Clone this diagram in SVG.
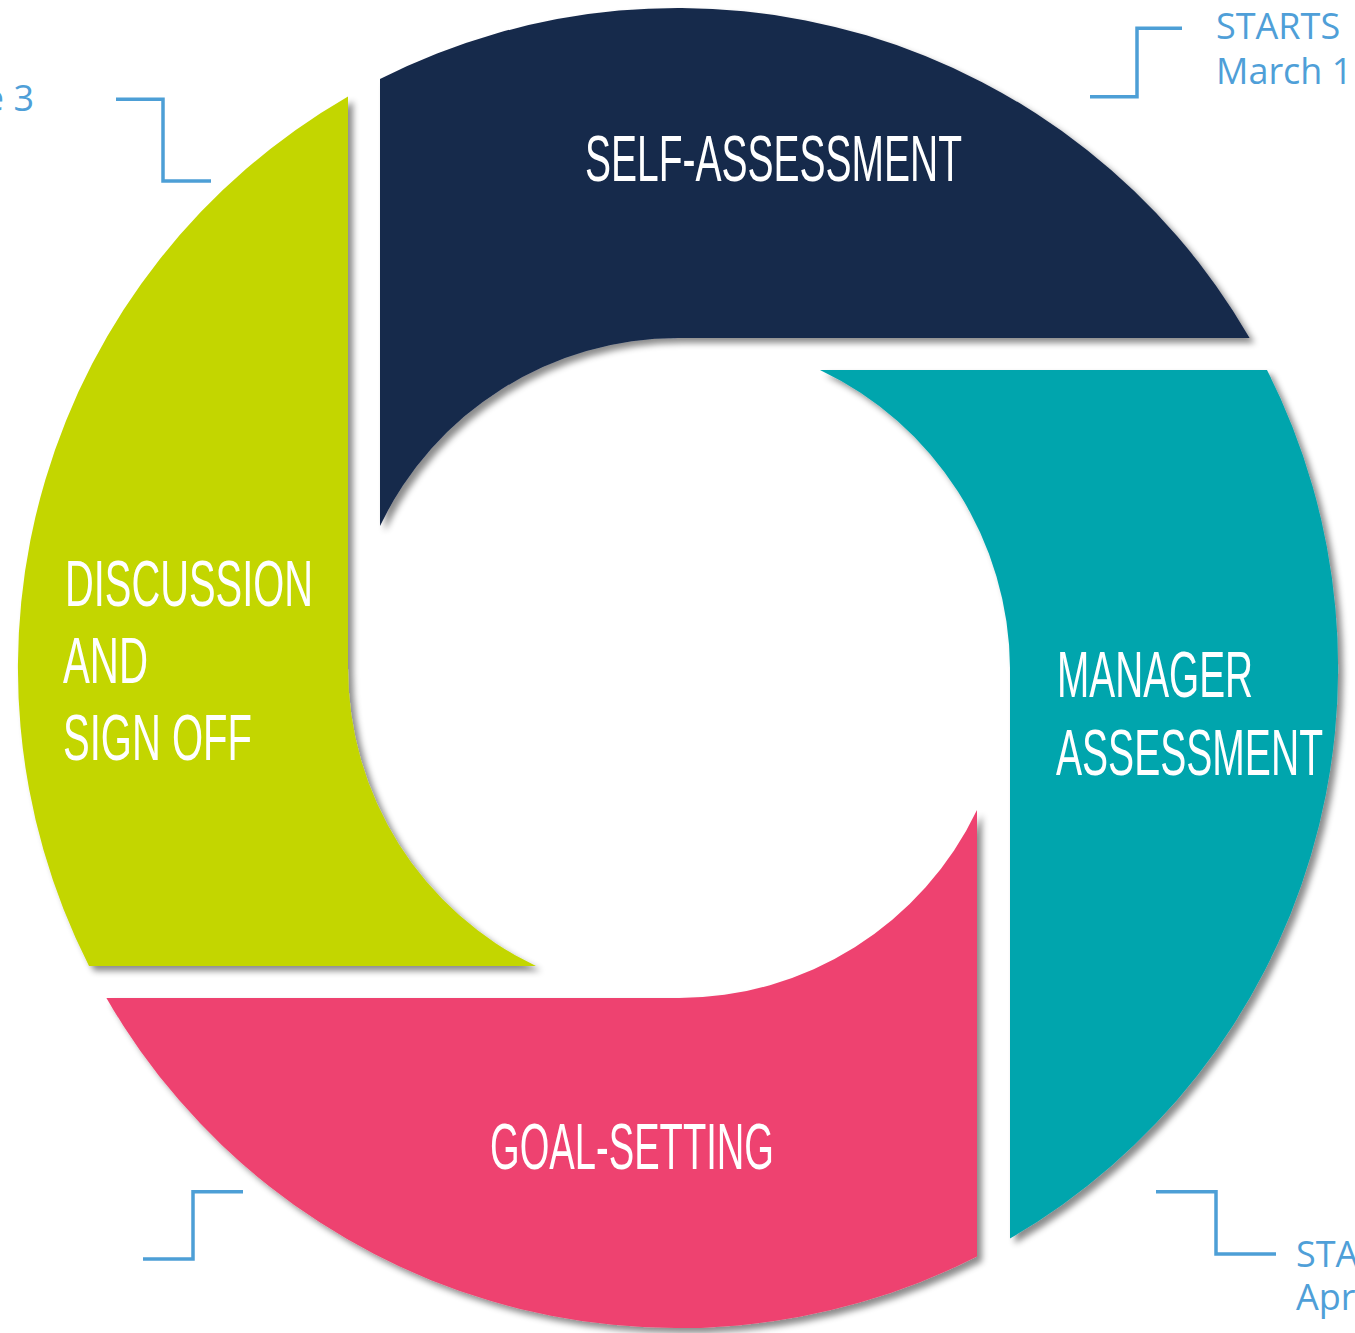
<svg xmlns="http://www.w3.org/2000/svg" width="1355" height="1333" viewBox="0 0 1355 1333">
  <defs>
    <filter id="shade" x="-5%" y="-5%" width="115%" height="115%">
      <feDropShadow dx="5" dy="5" stdDeviation="3" flood-color="#000" flood-opacity="0.45"/>
    </filter>
  </defs>
  <style>
    .seg { filter: url(#shade); }
    .label { font-family: "Liberation Sans", Arial, sans-serif; font-size: 64px; fill: #ffffff; }
    .note { font-family: "Open Sans", "Liberation Sans", sans-serif; font-size: 36px; fill: #4f9fd8; }
    .bracket { fill: none; stroke: #4d9fd6; stroke-width: 3.5; }
  </style>

  <rect width="1355" height="1333" fill="#ffffff"/>

  <!-- ring segments: outer r=660, inner r=330, centre (678,668) -->
  <g id="self-assessment">
    <path class="seg" fill="#16294b" d="M380,79 A660,660 0 0 1 1249.6,338 L678,338 A330,330 0 0 0 380,526 Z"/>
    <text class="label" x="585" y="181" textLength="377" lengthAdjust="spacingAndGlyphs">SELF-ASSESSMENT</text>
  </g>

  <g id="manager-assessment">
    <path class="seg" fill="#02a5ad" d="M1267,370 A660,660 0 0 1 1010,1238.5 L1010,668 A332,332 0 0 0 820,370 Z"/>
    <text class="label" x="1057" y="697" textLength="196" lengthAdjust="spacingAndGlyphs">MANAGER</text>
    <text class="label" x="1056" y="775" textLength="267" lengthAdjust="spacingAndGlyphs">ASSESSMENT</text>
  </g>

  <g id="goal-setting">
    <path class="seg" fill="#ee436f" d="M977,1256.5 A660,660 0 0 1 106.4,998 L678,998 A330,330 0 0 0 977,810 Z"/>
    <text class="label" x="490" y="1169" textLength="284" lengthAdjust="spacingAndGlyphs">GOAL-SETTING</text>
  </g>

  <g id="discussion-sign-off">
    <path class="seg" fill="#c3d600" d="M89,966 A660,660 0 0 1 348,96.4 L348,668 A330,330 0 0 0 536,966 Z"/>
    <text class="label" x="65" y="606" textLength="248" lengthAdjust="spacingAndGlyphs">DISCUSSION</text>
    <text class="label" x="63" y="683" textLength="85" lengthAdjust="spacingAndGlyphs">AND</text>
    <text class="label" x="63" y="760" textLength="189" lengthAdjust="spacingAndGlyphs">SIGN OFF</text>
  </g>

  <!-- start-date callouts -->
  <g id="connectors">
    <path class="bracket" d="M1090,96.7 H1137 V28.3 H1182"/>
    <path class="bracket" d="M116,99.3 H163 V181 H211"/>
    <path class="bracket" d="M1156,1191.7 H1216 V1254 H1276"/>
    <path class="bracket" d="M243,1191.7 H193 V1259 H143"/>
  </g>

  <g id="date-labels">
    <text class="note" x="1216" y="39">STARTS</text>
    <text class="note" x="1216" y="84">March 1</text>
    <text class="note" x="34" y="111" text-anchor="end">June 3</text>
    <text class="note" x="1296" y="1267">STARTS</text>
    <text class="note" x="1296" y="1310">April</text>
  </g>
</svg>
